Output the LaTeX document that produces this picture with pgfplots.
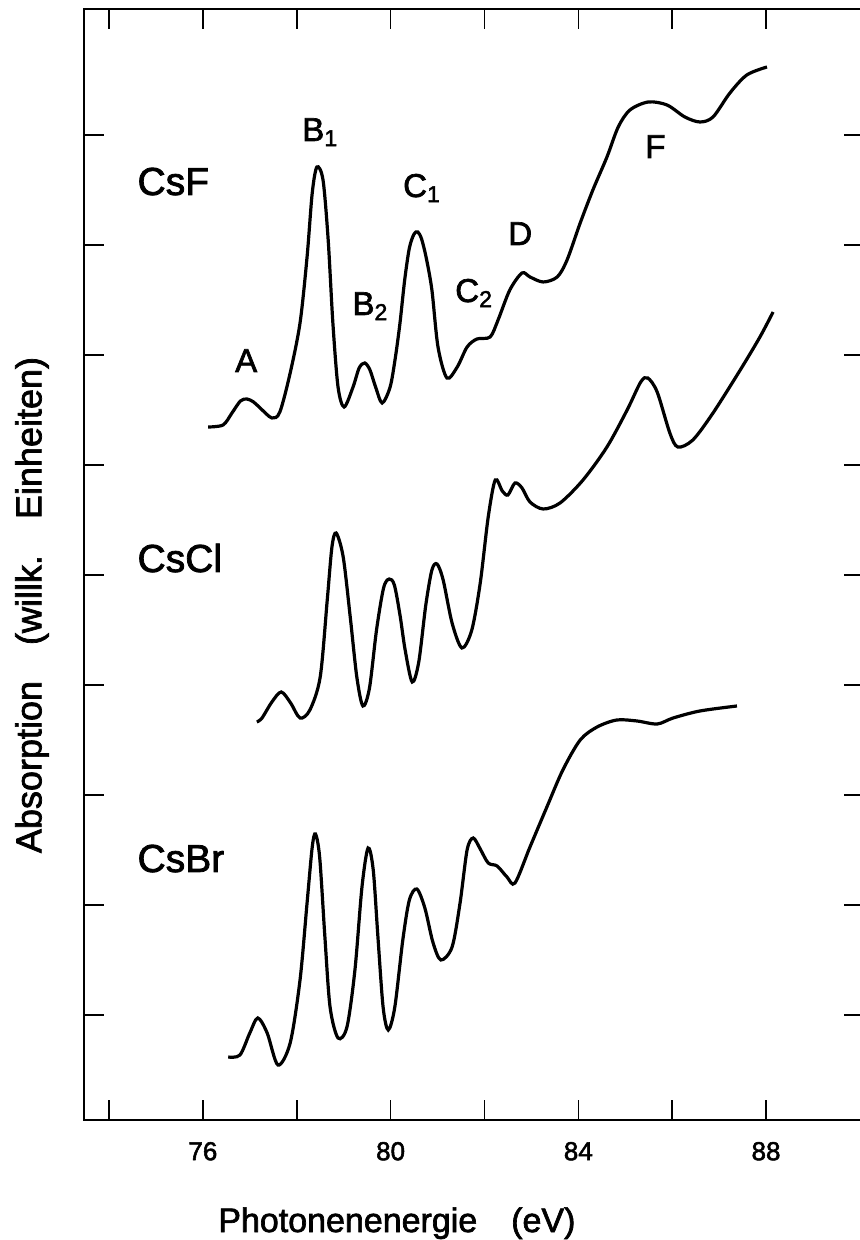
\documentclass[border=0pt]{standalone}
\usepackage{fontspec}
\setmainfont{Liberation Sans}[FakeBold=2]
\setsansfont{Liberation Sans}[FakeBold=2]
\usepackage{pgfplots}
\pgfplotsset{compat=1.18}
\begin{document}
\begin{tikzpicture}
\begin{axis}[
  scale only axis,
  width=390pt, height=555.5pt,
  xmin=73.4673, xmax=90.0878,
  ymin=0, ymax=1111,
  xtick={74,76,...,88},
  xticklabels={,76,,80,,84,,88},
  ytick={105,215,325,435,545,655,765,875,985},
  yticklabel=\empty,
  tick align=inside,
  major tick length=10pt,
  axis line style={line width=1.2pt},
  tick style={black, line width=0.8pt},
  xticklabel style={font=\fontsize{13}{15}\selectfont, yshift=-7.5pt},
  /pgf/number format/assume math mode=true,
  clip=false,
]
% CsF
\addplot[black, line width=1.6pt, smooth] coordinates {
(76.11,693) (76.43,695) (76.62,707) (76.80,719) (76.94,721) (77.08,718) (77.22,712) (77.47,702)
(77.64,708) (77.86,747) (78.07,797) (78.22,863) (78.33,927) (78.43,953)
(78.56,940) (78.67,880) (78.77,797) (78.88,733) (79.01,713) (79.20,733)
(79.33,752) (79.45,757) (79.56,750) (79.68,733) (79.82,717) (79.99,733) (80.10,762) (80.20,797) (80.30,840) (80.40,872)
(80.50,886) (80.58,888) (80.66,881) (80.76,862) (80.88,830) (81.01,773) (81.20,742) (81.42,753)
(81.63,773) (81.84,781) (82.12,783) (82.29,800) (82.54,830) (82.80,847)
(82.97,843) (83.25,838) (83.55,843) (83.76,860) (84.04,897) (84.31,930)
(84.61,963) (84.85,993) (85.10,1010) (85.49,1018) (85.89,1015) (86.27,1003)
(86.59,998) (86.87,1003) (87.23,1027) (87.59,1045) (88.02,1053)
};
% CsCl
\addplot[black, line width=1.6pt, smooth] coordinates {
(77.15,398) (77.26,402) (77.47,418) (77.67,428) (77.87,417) (78.07,402) (78.28,410) (78.50,443)
(78.65,520) (78.75,573) (78.84,587) (78.99,563) (79.14,503) (79.28,443)
(79.41,414) (79.55,432) (79.70,490) (79.85,532) (79.97,541) (80.08,535) (80.20,505) (80.31,470)
(80.46,438) (80.60,458) (80.75,515) (80.88,550) (80.99,556) (81.12,540) (81.31,497)
(81.52,472) (81.73,490) (81.91,537) (82.08,603) (82.23,640) (82.38,629)
(82.50,625) (82.65,637) (82.80,632) (82.97,618) (83.25,611) (83.61,617) (84.10,640)
(84.61,673) (85.04,710) (85.33,738) (85.48,742) (85.68,728) (85.95,687) (86.12,673)
(86.44,680) (86.87,707) (87.45,750) (87.87,783) (88.15,808)
};
% CsBr
\addplot[black, line width=1.6pt, smooth] coordinates {
(76.54,63) (76.79,65) (77.00,87) (77.17,102) (77.37,87) (77.60,55)
(77.86,77) (78.07,140) (78.22,217) (78.33,273) (78.40,286) (78.49,262)
(78.60,183) (78.71,113) (78.88,82) (79.07,93) (79.24,150) (79.39,233)
(79.52,272) (79.63,250) (79.73,183) (79.84,113) (79.95,90) (80.09,113)
(80.26,180) (80.40,220) (80.56,231) (80.73,212) (80.90,178) (81.07,160)
(81.31,173) (81.48,217) (81.63,270) (81.76,282) (81.91,271) (82.08,257)
(82.27,254) (82.48,243) (82.65,237) (82.97,273) (83.33,313) (83.67,350)
(84.04,380) (84.40,393) (84.82,400) (85.25,399) (85.68,396) (86.02,402)
(86.59,409) (87.38,414)
};
% labels
\node[anchor=base west, inner sep=0, font=\fontsize{19.5}{23}\selectfont] at (axis cs:74.60,925) {CsF};
\node[anchor=base west, inner sep=0, font=\fontsize{19.5}{23}\selectfont] at (axis cs:74.60,548) {CsCl};
\node[anchor=base west, inner sep=0, font=\fontsize{19.5}{23}\selectfont] at (axis cs:74.60,248) {CsBr};
\node[anchor=base west, inner sep=0, font=\fontsize{16.5}{19}\selectfont] at (axis cs:76.68,748) {A};
\node[anchor=base west, inner sep=0, font=\fontsize{16.5}{19}\selectfont] at (axis cs:78.11,979) {B\textsubscript{1}};
\node[anchor=base west, inner sep=0, font=\fontsize{16.5}{19}\selectfont] at (axis cs:79.18,805) {B\textsubscript{2}};
\node[anchor=base west, inner sep=0, font=\fontsize{16.5}{19}\selectfont] at (axis cs:80.26,923) {C\textsubscript{1}};
\node[anchor=base west, inner sep=0, font=\fontsize{16.5}{19}\selectfont] at (axis cs:81.37,818) {C\textsubscript{2}};
\node[anchor=base west, inner sep=0, font=\fontsize{16.5}{19}\selectfont] at (axis cs:82.50,875) {D};
\node[anchor=base west, inner sep=0, font=\fontsize{16.5}{19}\selectfont] at (axis cs:85.42,962) {F};
\node[anchor=base west, inner sep=0, font=\fontsize{17}{20}\selectfont] at (axis cs:76.32,-112) {Photonenenergie\quad(eV)};
\node[rotate=90, anchor=center, inner sep=0, font=\fontsize{18}{21}\selectfont] at (axis cs:72.36,515) {Absorption\quad(willk.\quad Einheiten)};
\coordinate (BBa) at (axis cs:71.677,1120);
\coordinate (BBb) at (axis cs:89.981,-120);
\end{axis}
\pgfresetboundingbox
\path[use as bounding box] (BBa) rectangle (BBb);
\end{tikzpicture}
\end{document}
